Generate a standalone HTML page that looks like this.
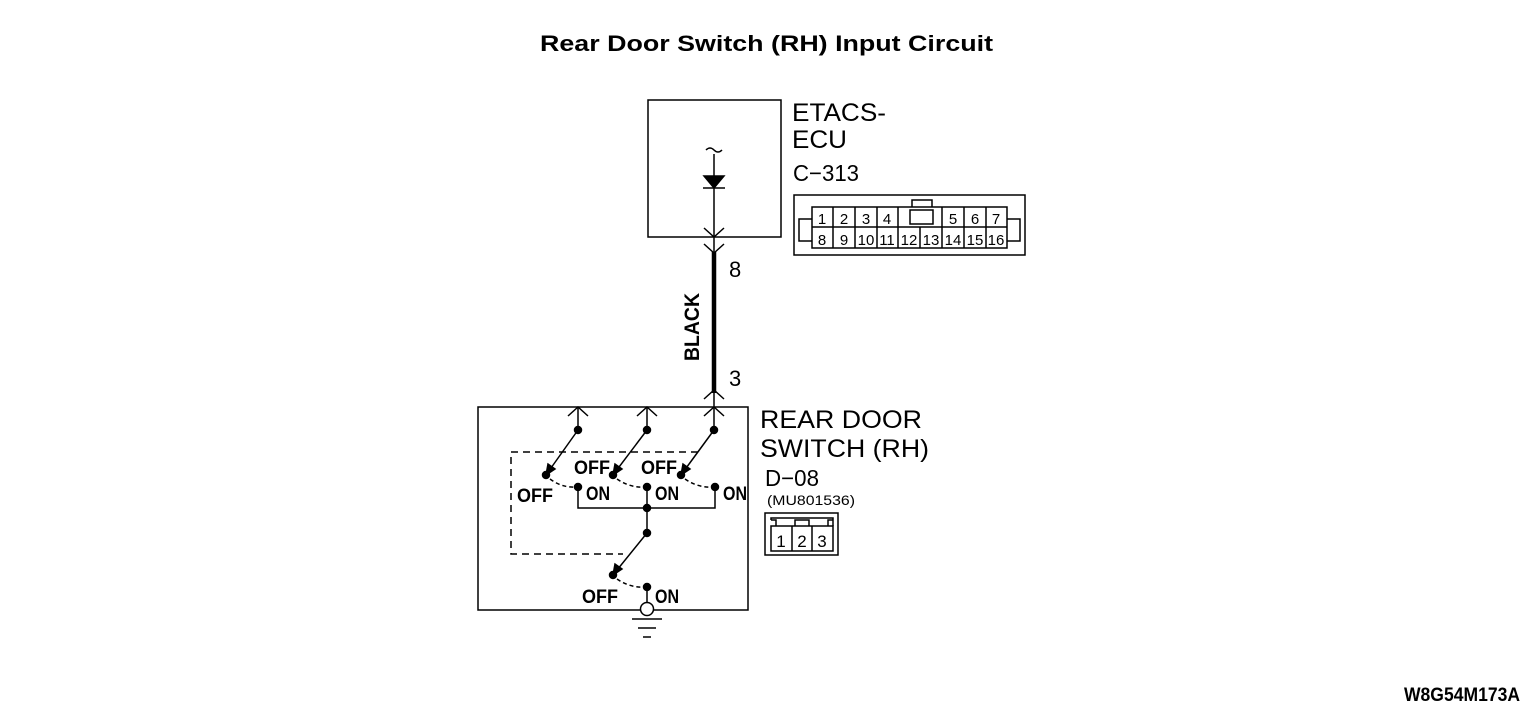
<!DOCTYPE html>
<html><head><meta charset="utf-8"><style>
html,body{margin:0;padding:0;background:#fff;}
svg{display:block;}
text{font-family:"Liberation Sans",sans-serif;fill:#000;}
</style></head><body>
<svg width="1533" height="714" viewBox="0 0 1533 714" xmlns="http://www.w3.org/2000/svg">
<g stroke="#000" fill="none" stroke-width="1.5">
<text x="540" y="51" font-size="22" font-weight="bold" stroke="none" textLength="453" lengthAdjust="spacingAndGlyphs">Rear Door Switch (RH) Input Circuit</text>
<rect x="648" y="100" width="133" height="137"/>
<path d="M706 150 q4 -4 8 0 q4 4 8 0"/>
<line x1="714" y1="154" x2="714" y2="252"/>
<polygon points="704,176 724,176 714,188" fill="#000"/>
<line x1="703" y1="188" x2="725" y2="188"/>
<path d="M704 228 L714 237 L724 228 M704 244 L714 253 L724 244"/>
<line x1="714" y1="252" x2="714" y2="393" stroke-width="4.5"/>
<path d="M704 399 L714 390 L724 399 M704 416 L714 407 L724 416"/>
<line x1="714" y1="390" x2="714" y2="430"/>
<rect x="478" y="407" width="270" height="203"/>
<path d="M568 416 L578 407 L588 416 M637 416 L647 407 L657 416"/>
<line x1="578" y1="407" x2="578" y2="430"/><line x1="647" y1="407" x2="647" y2="430"/>
<path d="M698 452 L511 452 L511 554 L623 554" stroke-dasharray="7,5"/>
<g fill="#000">
<circle cx="578" cy="430" r="3.5"/><circle cx="647" cy="430" r="3.5"/><circle cx="714" cy="430" r="3.5"/>
<circle cx="546" cy="475" r="3.5"/><circle cx="613" cy="475" r="3.5"/><circle cx="681" cy="475" r="3.5"/>
<circle cx="578" cy="487" r="3.5"/><circle cx="647" cy="487" r="3.5"/><circle cx="715" cy="487" r="3.5"/>
<circle cx="647" cy="508" r="3.5"/><circle cx="647" cy="533" r="3.5"/>
<circle cx="613" cy="575" r="3.5"/><circle cx="647" cy="587" r="3.5"/>
</g>
<line x1="578" y1="430" x2="546" y2="475"/><line x1="647" y1="430" x2="613" y2="475"/><line x1="714" y1="430" x2="681" y2="475"/>
<polygon points="546,475 548,464 555,469" fill="#000"/>
<polygon points="613,475 615,464 622,469" fill="#000"/>
<polygon points="681,475 683,464 690,469" fill="#000"/>
<path d="M550 479 Q562 488 576 487 M617 479 Q630 488 645 487 M685 479 Q698 488 713 487 M617 579 Q630 588 645 587" stroke-dasharray="4,3"/>
<path d="M578 487 L578 508 L715 508 L715 487 M647 487 L647 533 L613 575"/>
<polygon points="613,575 615,564 622,569" fill="#000"/>
<line x1="647" y1="587" x2="647" y2="602"/>
<circle cx="647" cy="609" r="6.5" fill="#fff"/>
<line x1="632" y1="619" x2="662" y2="619"/><line x1="638" y1="628" x2="656" y2="628"/><line x1="643" y1="637" x2="651" y2="637"/>
<rect x="794" y="195" width="231" height="60"/>
<rect x="812" y="207" width="195" height="41"/>
<line x1="812" y1="227" x2="1007" y2="227"/>
<path d="M833 207V248M855 207V248M877 207V248M898 207V248M942 207V248M964 207V248M986 207V248M920 227V248"/>
<path d="M812 219H799V241H812M1007 219H1020V241H1007M912 207V200H932V207"/>
<rect x="910" y="210" width="23" height="14"/>
<rect x="765" y="513" width="73" height="42"/>
<rect x="771" y="526" width="62" height="25"/>
<path d="M792 526V551M812 526V551M771 520H776V526M795 526V520H809V526M828 526V520H833V526M771 520V518H833V520"/>
</g>
<g font-size="19" font-weight="bold" style="font-family:'Liberation Sans Narrow','Liberation Sans',sans-serif">
<text x="729" y="277" font-size="22" font-weight="normal">8</text>
<text x="729" y="386" font-size="22" font-weight="normal">3</text>
<text transform="translate(699,361) rotate(-90)" font-size="21" textLength="68" lengthAdjust="spacingAndGlyphs">BLACK</text>
<text x="517" y="502" textLength="36" lengthAdjust="spacingAndGlyphs">OFF</text>
<text x="574" y="474" textLength="36" lengthAdjust="spacingAndGlyphs">OFF</text>
<text x="641" y="474" textLength="36" lengthAdjust="spacingAndGlyphs">OFF</text>
<text x="586" y="500" textLength="24" lengthAdjust="spacingAndGlyphs">ON</text>
<text x="655" y="500" textLength="24" lengthAdjust="spacingAndGlyphs">ON</text>
<text x="723" y="500" textLength="24" lengthAdjust="spacingAndGlyphs">ON</text>
<text x="582" y="603" textLength="36" lengthAdjust="spacingAndGlyphs">OFF</text>
<text x="655" y="603" textLength="24" lengthAdjust="spacingAndGlyphs">ON</text>
<text x="793" y="181" font-size="23" font-weight="normal" textLength="66" lengthAdjust="spacingAndGlyphs">C−313</text>
<text x="765" y="486" font-size="23" font-weight="normal" textLength="54" lengthAdjust="spacingAndGlyphs">D−08</text>
<text x="767" y="505" font-size="14" font-weight="normal" textLength="88" lengthAdjust="spacingAndGlyphs">(MU801536)</text>
<text x="1404" y="701" font-size="19" textLength="116" lengthAdjust="spacingAndGlyphs">W8G54M173A</text>
<g font-size="15" text-anchor="middle" font-weight="normal">
<text x="822" y="224">1</text><text x="844" y="224">2</text><text x="866" y="224">3</text><text x="887" y="224">4</text>
<text x="953" y="224">5</text><text x="975" y="224">6</text><text x="996" y="224">7</text>
<text x="822" y="245">8</text><text x="844" y="245">9</text><text x="866" y="245">10</text><text x="887" y="245">11</text>
<text x="909" y="245">12</text><text x="931" y="245">13</text><text x="953" y="245">14</text><text x="975" y="245">15</text><text x="996" y="245">16</text>
<text x="781" y="547" font-size="17">1</text><text x="802" y="547" font-size="17">2</text><text x="822" y="547" font-size="17">3</text>
</g>
</g>
<g font-size="25">
<text x="792" y="121" textLength="94" lengthAdjust="spacingAndGlyphs">ETACS-</text>
<text x="792" y="148" textLength="55" lengthAdjust="spacingAndGlyphs">ECU</text>
<text x="760" y="428" textLength="162" lengthAdjust="spacingAndGlyphs">REAR DOOR</text>
<text x="760" y="457" textLength="169" lengthAdjust="spacingAndGlyphs">SWITCH (RH)</text>
</g>
</svg>
</body></html>
